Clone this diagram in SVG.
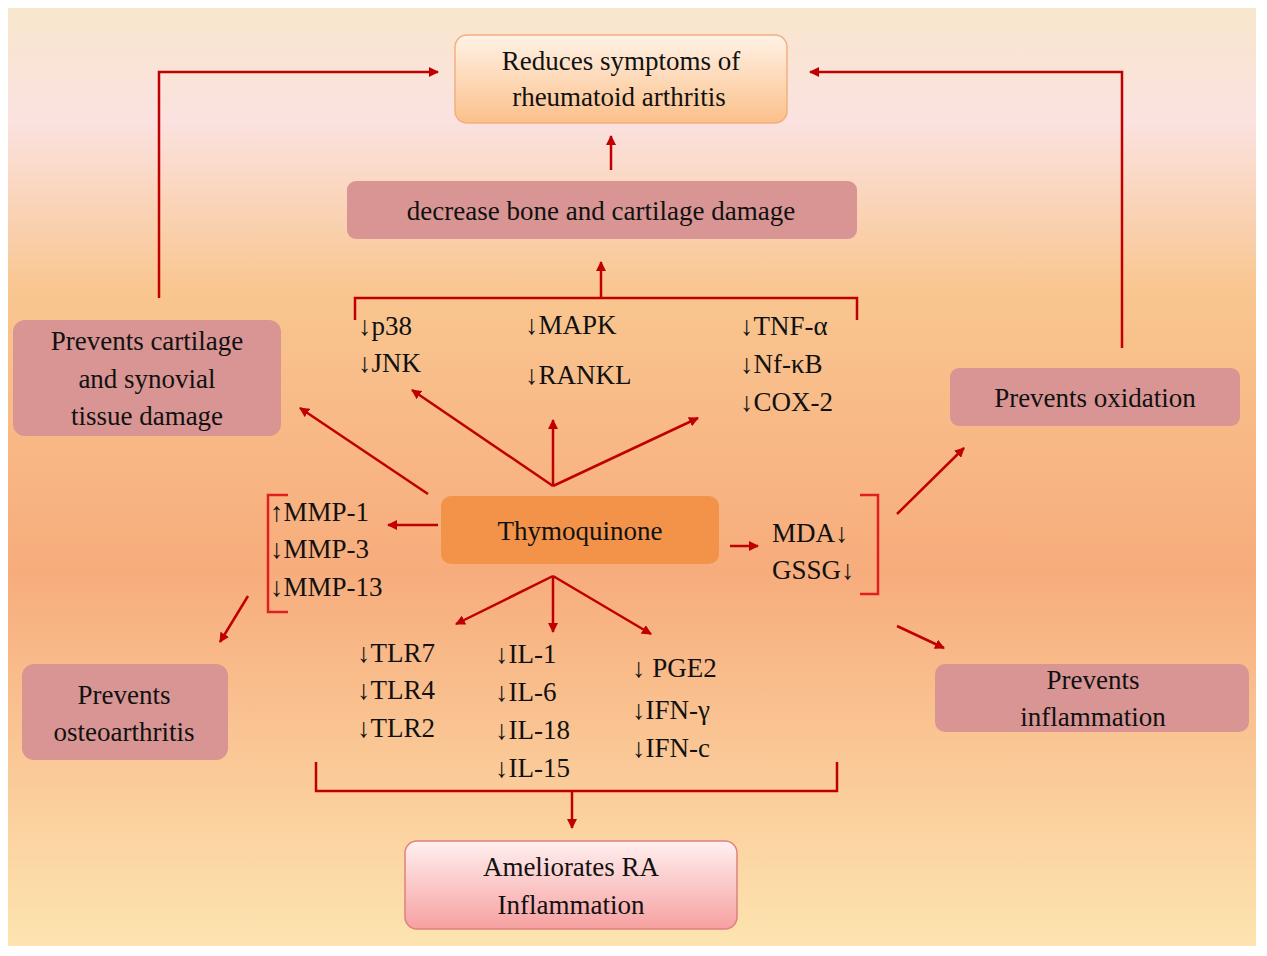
<svg xmlns="http://www.w3.org/2000/svg" width="1267" height="956" viewBox="0 0 1267 956">
<defs>
<linearGradient id="bg" x1="0" y1="0" x2="0" y2="1">
<stop offset="0" stop-color="#f8e6cc"/>
<stop offset="0.12" stop-color="#fbe2e0"/>
<stop offset="0.3" stop-color="#f9c690"/>
<stop offset="0.6" stop-color="#f7ac7c"/>
<stop offset="1" stop-color="#fde4b0"/>
</linearGradient>
<linearGradient id="top" x1="0" y1="0" x2="0" y2="1">
<stop offset="0" stop-color="#fff2e6"/><stop offset="1" stop-color="#fbc08a"/>
</linearGradient>
<linearGradient id="bot" x1="0" y1="0" x2="0" y2="1">
<stop offset="0" stop-color="#fff0f0"/><stop offset="1" stop-color="#f7a0a0"/>
</linearGradient>
<marker id="ah" viewBox="0 0 10 10" refX="9" refY="5" markerWidth="4" markerHeight="4" orient="auto">
<path d="M0,0 L10,5 L0,10 z" fill="#c00000"/>
</marker>
<style>
text{font-family:"Liberation Serif","Times New Roman",serif;font-size:27px;fill:#111}
.pk{fill:#d99594}
.ln{fill:none;stroke:#c00000;stroke-width:2.5}
.ar{fill:none;stroke:#c00000;stroke-width:2.5;marker-end:url(#ah)}
.br{fill:none;stroke:#e02020;stroke-width:2.5}
.m{text-anchor:middle}
</style>
</defs>
<rect x="0" y="0" width="1267" height="956" fill="#fff"/>
<rect x="8" y="8" width="1248" height="938" fill="url(#bg)"/>

<g id="n-top"><rect x="455" y="35" width="332" height="88" rx="12" fill="url(#top)" stroke="#f2b080" stroke-width="1.5"/>
<text class="m" x="621" y="70">Reduces symptoms  of</text><text class="m" x="619" y="106">rheumatoid arthritis</text></g>
<g id="n-bone"><rect x="347" y="181" width="510" height="58" rx="9" class="pk"/><text class="m" x="601" y="220">decrease bone and cartilage damage</text></g>
<g id="n-cart"><rect x="13" y="320" width="268" height="116" rx="12" class="pk"/>
<text class="m" x="147" y="350">Prevents cartilage</text><text class="m" x="147" y="388">and synovial</text><text class="m" x="147" y="425">tissue damage</text></g>
<g id="n-oxid"><rect x="950" y="368" width="290" height="58" rx="9" class="pk"/><text class="m" x="1095" y="407">Prevents oxidation</text></g>
<g id="n-thy"><rect x="441" y="496" width="278" height="68" rx="10" fill="#f3934a"/><text class="m" x="580" y="540">Thymoquinone</text></g>
<g id="n-osteo"><rect x="22" y="664" width="206" height="96" rx="12" class="pk"/>
<text class="m" x="124" y="704">Prevents</text><text class="m" x="124" y="741">osteoarthritis</text></g>
<g id="n-infl"><rect x="935" y="664" width="314" height="68" rx="10" class="pk"/>
<text class="m" x="1093" y="689">Prevents</text><text class="m" x="1093" y="726">inflammation</text></g>
<g id="n-ra"><rect x="405" y="841" width="332" height="88" rx="12" fill="url(#bot)" stroke="#e08080" stroke-width="1.5"/>
<text class="m" x="571" y="876">Ameliorates RA</text><text class="m" x="571" y="914">Inflammation</text></g>

<g id="labels">
<text x="358" y="335">↓p38</text><text x="358" y="372">↓JNK</text>
<text x="525" y="334">↓MAPK</text><text x="525" y="384">↓RANKL</text>
<text x="740" y="335">↓TNF-α</text><text x="740" y="373">↓Nf-κB</text><text x="740" y="411">↓COX-2</text>
<text x="270" y="521">↑MMP-1</text><text x="270" y="558">↓MMP-3</text><text x="270" y="596">↓MMP-13</text>
<text x="772" y="542">MDA↓</text><text x="772" y="579">GSSG↓</text>
<text x="357" y="662">↓TLR7</text><text x="357" y="699">↓TLR4</text><text x="357" y="737">↓TLR2</text>
<text x="495" y="663">↓IL-1</text><text x="495" y="701">↓IL-6</text><text x="495" y="739">↓IL-18</text><text x="495" y="777">↓IL-15</text>
<text x="632" y="677">↓ PGE2</text><text x="632" y="719">↓IFN-γ</text><text x="632" y="757">↓IFN-c</text>
</g>

<g id="connectors">
<path class="ar" d="M159,298 V72 H438"/>
<path class="ar" d="M1122,348 V72 H810"/>
<path class="ar" d="M611,170 V136"/>
<path class="ln" d="M355,320 V298 H857 V320"/>
<path class="ar" d="M601,298 V262"/>
<path class="ar" d="M553,486 L412,390"/>
<path class="ar" d="M553,486 V420"/>
<path class="ar" d="M553,486 L698,418"/>
<path class="ar" d="M428,494 L300,408"/>
<path class="ar" d="M438,525 H388"/>
<path class="br" d="M288,495 H268 V612 H288"/>
<path class="ar" d="M248,596 L220,642"/>
<path class="ar" d="M730,546 H758"/>
<path class="br" d="M860,495 H878 V594 H860"/>
<path class="ar" d="M897,514 L964,448"/>
<path class="ar" d="M897,626 L944,648"/>
<path class="ar" d="M553,576 L456,624"/>
<path class="ar" d="M553,576 V632"/>
<path class="ar" d="M553,576 L651,634"/>
<path class="ln" d="M316,762 V791 H837 V762"/>
<path class="ar" d="M572,791 V828"/>
</g>
</svg>
